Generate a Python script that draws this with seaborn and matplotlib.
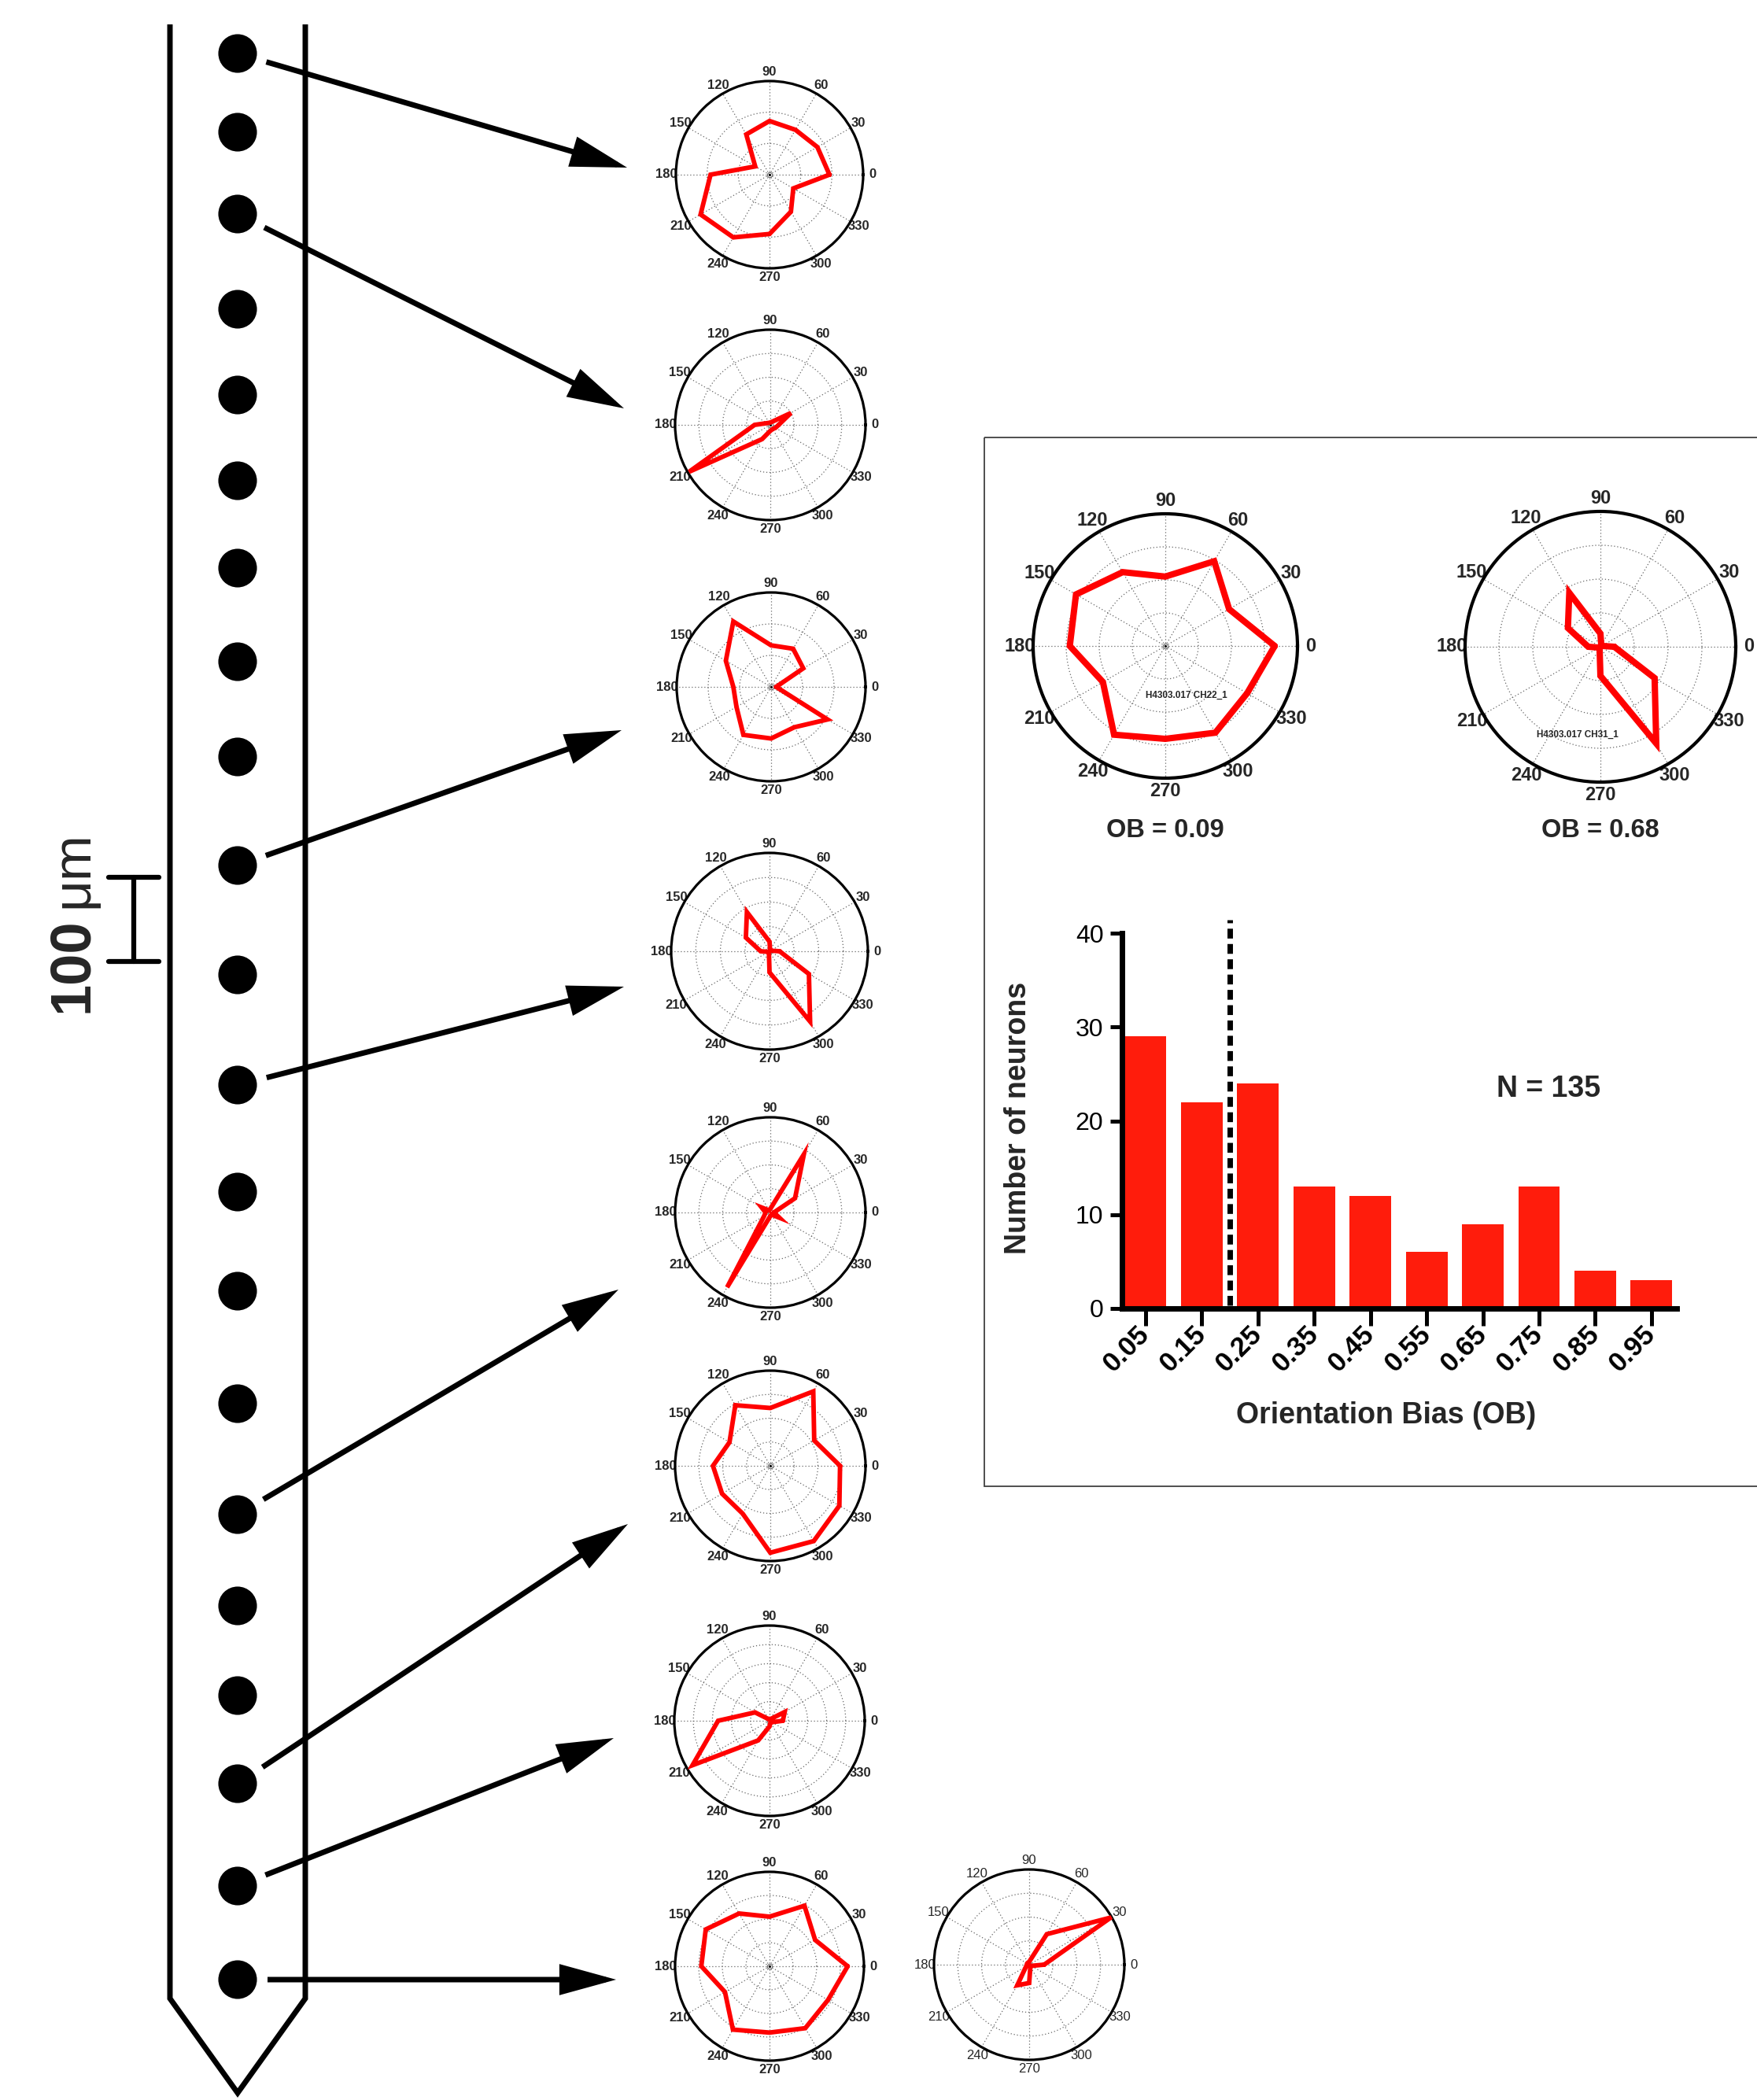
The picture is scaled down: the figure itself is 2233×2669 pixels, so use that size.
import numpy as np
import matplotlib
matplotlib.use("Agg")
import matplotlib.pyplot as plt
import seaborn as sns
from matplotlib import font_manager
from matplotlib.patches import Rectangle, FancyArrowPatch

# ---------------------------------------------------------------- data
angles_deg = [0, 30, 60, 90, 120, 150, 180, 210, 240, 270, 300, 330]

# direction tuning of single units (response radius per stimulus direction)
unit_ch02 = [1.92, 1.77, 1.66, 1.72, 1.49, 0.53, 1.89, 2.55, 2.32, 1.90, 1.37, 0.88]
unit_ch04 = [0.35, 1.00, 0.15, 0.10, 0.10, 0.15, 0.66, 3.94, 0.69, 0.25, 0.20, 0.25]
unit_ch10 = [0.16, 1.18, 1.40, 1.32, 2.40, 1.66, 1.20, 1.27, 1.76, 1.64, 1.48, 2.07]
unit_ch31 = [0.41, 0.05, 0.05, 0.39, 1.84, 1.11, 0.36, 0.05, 0.05, 0.86, 3.30, 1.85]
unit_ch16 = [0.15, 1.20, 2.82, 0.15, 0.10, 0.42, 0.20, 0.30, 3.63, 0.15, 0.10, 0.44]
unit_ch19 = [2.93, 2.13, 3.61, 2.43, 2.94, 1.98, 2.41, 2.34, 2.32, 3.65, 3.65, 3.35]
unit_ch20 = [0.70, 0.92, 0.10, 0.10, 0.10, 0.88, 2.70, 4.67, 1.19, 0.30, 0.10, 0.15]
unit_ch22 = [3.31, 2.23, 2.96, 2.10, 2.58, 3.12, 2.89, 2.18, 3.10, 2.81, 3.03, 2.86]
unit_ch22b = [0.63, 3.96, 1.48, 0.12, 0.10, 0.10, 0.10, 0.15, 1.00, 0.77, 0.10, 0.10]

ob_examples = ["OB = 0.09", "OB = 0.68"]
unit_tags = ["H4303.017 CH22_1", "H4303.017 CH31_1"]

# orientation-bias histogram
ob_bins = ["0.05", "0.15", "0.25", "0.35", "0.45", "0.55", "0.65", "0.75", "0.85", "0.95"]
neuron_counts = [29, 22, 24, 13, 12, 6, 9, 13, 4, 3]
ob_cut_position = 1.5          # boundary between the 0.15 and 0.25 bins (OB = 0.2)
n_label = "N = 135"
y_ticks = [0, 10, 20, 30, 40]

# recording sites along the shank (pixel depth in the figure)
site_depth_px = [68, 168, 272, 393, 502, 611, 722, 841, 962, 1100, 1239,
                 1379, 1515, 1641, 1784, 1925, 2041, 2155, 2267, 2397, 2516]

# ---------------------------------------------------------------- styling
W, H, DPI = 2233, 2669, 100
TRACE_RED = "#FF0000"
BAR_RED = "#FF1C0C"

sns.set_theme(style="ticks")
plt.rcParams["font.family"] = ["Liberation Sans", "DejaVu Sans"]
names = {f.name for f in font_manager.fontManager.ttflist}
NARROW = "Liberation Sans Narrow" if "Liberation Sans Narrow" in names else "Liberation Sans"

fig = plt.figure(figsize=(W / DPI, H / DPI), dpi=DPI)
fig.patch.set_facecolor("white")


def px_rect(x0, y0, w, h):
    return [x0 / W, 1 - (y0 + h) / H, w / W, h / H]


# overlay in pixel units for the probe schematic
base = fig.add_axes([0, 0, 1, 1])
base.set_xlim(0, W)
base.set_ylim(H, 0)
base.axis("off")

# probe shank outline
shank_x = (216, 388)
shank_top, shank_bottom, tip_y = 31, 2540, 2660
mid_x = sum(shank_x) / 2
base.plot([shank_x[0], shank_x[0], mid_x, shank_x[1], shank_x[1]],
          [shank_top, shank_bottom, tip_y, shank_bottom, shank_top],
          color="black", lw=5, solid_joinstyle="miter", solid_capstyle="butt")

# recording sites
sns.scatterplot(x=[mid_x] * len(site_depth_px), y=site_depth_px, ax=base,
                s=1250, color="black", edgecolor="none", legend=False, zorder=5)

# scale bar
bar_x, bar_y0, bar_y1, cap = 170, 1115, 1222, 32
base.plot([bar_x, bar_x], [bar_y0, bar_y1], color="black", lw=4.5)
base.plot([bar_x - cap, bar_x + cap], [bar_y0, bar_y0], color="black", lw=4.5)
base.plot([bar_x - cap, bar_x + cap], [bar_y1, bar_y1], color="black", lw=4.5)
base.text(111, 1227, "100", rotation=90, rotation_mode="anchor", ha="center",
          va="baseline", fontsize=52, fontweight="bold")
base.text(111, 1105, "\u03bcm", rotation=90, rotation_mode="anchor", ha="center",
          va="baseline", fontsize=50)

# ---------------------------------------------------------------- rose plots


def draw_rose(cx, cy, R, radii, nrings, fsize, weight, line_w, spine_w, pad):
    ax = fig.add_axes(px_rect(cx - R, cy - R, 2 * R, 2 * R), projection="polar")
    ax.set_facecolor("none")
    th = np.deg2rad(angles_deg + [360])
    rr = list(radii) + [radii[0]]
    rmax = float(nrings)
    ax.plot(th, rr, color=TRACE_RED, lw=line_w, solid_joinstyle="miter", zorder=4)
    ax.plot([0], [0], marker="o", ms=4.5, mfc="none", mec="0.3", mew=0.6, zorder=3)
    ax.plot([0], [0], marker="o", ms=1.2, color="black", zorder=3)
    ax.set_ylim(0, rmax)
    ax.set_yticks(np.arange(1, nrings))
    ax.set_yticklabels([])
    ax.set_thetagrids(angles_deg, labels=[str(a) for a in angles_deg],
                      fontsize=fsize, fontweight=weight)
    ax.tick_params(axis="x", length=0, pad=pad)
    ax.tick_params(axis="y", length=0)
    ax.grid(True, color="0.4", linestyle=(0, (1, 2.2)), linewidth=0.9)
    ax.spines["polar"].set_linewidth(spine_w)
    ax.spines["polar"].set_color("black")
    return ax


column = [
    (978, 222, 119, unit_ch02, 3),
    (979, 540, 121, unit_ch04, 4),
    (980, 873, 120, unit_ch10, 3),
    (978, 1209, 125, unit_ch31, 4),
    (979, 1541, 121, unit_ch16, 4),
    (979, 1863, 121, unit_ch19, 4),
    (978, 2187, 121, unit_ch20, 5),
    (978, 2499, 120, unit_ch22, 4),
]
for cx, cy, R, radii, nr in column:
    draw_rose(cx, cy, R, radii, nr, 12, "bold", 4.2, 2.3, 1.5)

draw_rose(1308, 2497, 121, unit_ch22b, 4, 12, "normal", 4.2, 2.3, 1.5)

# arrows from recording sites to their tuning curves
arrow_links = [  # (site index, arrow tip x, arrow tip y)
    (0, 797, 213), (2, 793, 519), (9, 790, 928), (11, 793, 1254),
    (15, 786, 1639), (18, 798, 1937), (19, 780, 2209), (20, 783, 2516),
]
for site, ex, ey in arrow_links:
    sx, sy = mid_x, site_depth_px[site]
    d = np.array([ex - sx, ey - sy], float)
    d /= np.hypot(*d)
    start = (sx + 38 * d[0], sy + 38 * d[1])
    arr = FancyArrowPatch(start, (ex, ey), arrowstyle="-|>,head_length=40,head_width=11",
                          mutation_scale=1, lw=5, color="black", shrinkA=0, shrinkB=0,
                          joinstyle="miter", capstyle="butt")
    base.add_patch(arr)

# ---------------------------------------------------------------- inset panel
base.add_patch(Rectangle((1251, 556), 1000, 1333, fill=False, lw=1.3, edgecolor="0.25"))

big = [
    (1481, 821, 168, unit_ch22, (0.58, 0.312)),
    (2034, 822, 172, unit_ch31, (0.416, 0.174)),
]
for (cx, cy, R, radii, tag_pos), ob_txt, tag in zip(big, ob_examples, unit_tags):
    ax = draw_rose(cx, cy, R, radii, 4, 17, "bold", 5.8, 3.0, 5)
    ax.text(*tag_pos, tag, transform=ax.transAxes, ha="center", va="center",
            fontsize=8.5, family=NARROW, fontweight="bold", zorder=6)
    base.text(cx, 1056, ob_txt, ha="center", va="center", fontsize=23.5, fontweight="bold")

# histogram
hx0, hy0, hx1, hy1 = 1426, 1186, 2131, 1663
hax = fig.add_axes(px_rect(hx0, hy0, hx1 - hx0, hy1 - hy0))
hax.set_facecolor("none")
sns.barplot(x=ob_bins, y=neuron_counts, order=ob_bins, color=BAR_RED, saturation=1,
            width=0.74, linewidth=0, ax=hax)
hax.set_xlim(-0.42, 9.45)
hax.set_ylim(0, 40)
hax.plot([ob_cut_position] * 2, [0.3, 41.4], color="black", lw=5,
         linestyle=(0, (1.8, 1.0)), dash_capstyle="butt", clip_on=False, zorder=5)
sns.despine(ax=hax)
for side in ("left", "bottom"):
    hax.spines[side].set_linewidth(5)
    hax.spines[side].set_color("black")
hax.set_yticks(y_ticks)
hax.set_yticklabels([str(v) for v in y_ticks], fontsize=23)
hax.set_xticks(range(len(ob_bins)))
hax.set_xticklabels(ob_bins, rotation=45, ha="right", va="center", rotation_mode="anchor",
                    fontsize=25, fontweight="bold")
hax.tick_params(axis="y", direction="out", length=11, width=3.6, pad=6, colors="black")
hax.tick_params(axis="x", direction="out", length=16, width=3.6, pad=4, colors="black")
hax.set_xlabel("Orientation Bias (OB)", fontsize=27, fontweight="bold")
hax.set_ylabel("Number of neurons", fontsize=27, fontweight="bold")
hax.xaxis.label.set_va("center")
hax.yaxis.label.set_va("center")
hax.xaxis.set_label_coords((1762 - hx0) / (hx1 - hx0), (hy1 - 1799) / (hy1 - hy0))
hax.yaxis.set_label_coords((1294 - hx0) / (hx1 - hx0), (hy1 - 1421) / (hy1 - hy0))
hax.text((1968 - hx0) / (hx1 - hx0), (hy1 - 1384) / (hy1 - hy0), n_label,
         transform=hax.transAxes, ha="center", va="center", fontsize=27,
         fontweight="bold")

fig.savefig("out.png", dpi=DPI, facecolor="white")
